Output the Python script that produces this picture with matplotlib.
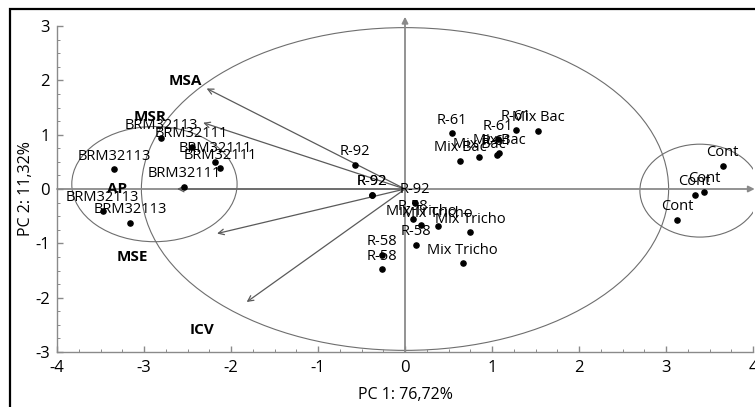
import matplotlib
matplotlib.use("Agg")
import matplotlib.pyplot as plt
from matplotlib.patches import Ellipse, Rectangle
from matplotlib.ticker import MultipleLocator

plt.rcParams['font.family'] = ['Open Sans', 'DejaVu Sans']

# ---- scores (PC1, PC2) per treatment ----
brm32113_pc1 = [-2.80, -3.345, -3.475, -3.16]
brm32113_pc2 = [0.93, 0.36, -0.40, -0.62]
brm32111_pc1 = [-2.452, -2.184, -2.126, -2.54]
brm32111_pc2 = [0.78, 0.503, 0.38, 0.04]
r92_pc1 = [-0.575, -0.383, -0.378, 0.115]
r92_pc2 = [0.44, -0.11, -0.105, -0.26]
r58_pc1 = [0.096, 0.123, -0.269, -0.261]
r58_pc2 = [-0.56, -1.03, -1.215, -1.48]
mixtricho_pc1 = [0.184, 0.375, 0.747, 0.663]
mixtricho_pc2 = [-0.66, -0.69, -0.80, -1.37]
r61_pc1 = [0.544, 1.072, 1.276, 1.054]
r61_pc2 = [1.025, 0.915, 1.086, 0.626]
mixbac_pc1 = [0.632, 0.854, 1.080, 1.532]
mixbac_pc2 = [0.515, 0.583, 0.657, 1.073]
cont_pc1 = [3.65, 3.44, 3.33, 3.13]
cont_pc2 = [0.42, -0.055, -0.11, -0.57]

groups = ["BRM32113", "BRM32111", "R-92", "R-58", "Mix Tricho", "R-61", "Mix Bac", "Cont"]
group_pc1 = [brm32113_pc1, brm32111_pc1, r92_pc1, r58_pc1, mixtricho_pc1, r61_pc1, mixbac_pc1, cont_pc1]
group_pc2 = [brm32113_pc2, brm32111_pc2, r92_pc2, r58_pc2, mixtricho_pc2, r61_pc2, mixbac_pc2, cont_pc2]

# ---- loadings (variables) ----
variables = ["MSA", "MSR", "AP", "MSE", "ICV"]
load_pc1 = [-2.28, -2.32, -2.62, -2.16, -1.82]
load_pc2 = [1.85, 1.22, 0.0, -0.82, -2.08]
varlabel_pc1 = [-2.53, -2.93, -3.31, -3.14, -2.33]
varlabel_pc2 = [1.98, 1.33, 0.0, -1.25, -2.60]

# ---- group ellipses ----
ell_cx = [0.0, -2.88, 3.39]
ell_cy = [0.0, 0.09, -0.03]
ell_w = [6.06, 1.90, 1.38]
ell_h = [5.94, 2.12, 1.71]

xticks = [-4, -3, -2, -1, 0, 1, 2, 3, 4]
yticks = [-3, -2, -1, 0, 1, 2, 3]
xlabel = "PC 1: 76,72%"
ylabel = "PC 2: 11,32%"

W, H = 755, 407
fig = plt.figure(figsize=(W / 100, H / 100), dpi=100)
ax = fig.add_axes([57 / W, 1 - 352 / H, (753 - 57) / W, (352 - 26) / H])

grey = '#8a8a8a'
ax.set_xlim(-4, 4)
ax.set_ylim(-3, 3)
for s in ['top', 'right']:
    ax.spines[s].set_visible(False)
for s in ['left', 'bottom']:
    ax.spines[s].set_color(grey)
    ax.spines[s].set_linewidth(1.0)
ax.set_xticks(xticks)
ax.set_yticks(yticks)
ax.set_xticklabels([str(t) for t in xticks])
ax.set_yticklabels([str(t) for t in yticks])
ax.xaxis.set_minor_locator(MultipleLocator(0.25))
ax.yaxis.set_minor_locator(MultipleLocator(0.25))
ax.tick_params(which='major', direction='in', length=4, width=1.0, color=grey,
               labelsize=12, pad=6)
ax.tick_params(which='minor', direction='in', length=2.5, width=0.7, color=grey)
ax.tick_params(axis='y', pad=5)
ax.set_xlabel(xlabel, fontsize=11.5, labelpad=8)
ax.set_ylabel(ylabel, fontsize=11.5, labelpad=1)

# axis lines through origin with arrows
ax.annotate('', xy=(4.02, 0), xytext=(-4, 0),
            arrowprops=dict(arrowstyle='-|>', color=grey, lw=1.3,
                            mutation_scale=9, shrinkA=0, shrinkB=0),
            annotation_clip=False)
ax.annotate('', xy=(0, 3.17), xytext=(0, -3),
            arrowprops=dict(arrowstyle='-|>', color=grey, lw=1.3,
                            mutation_scale=9, shrinkA=0, shrinkB=0),
            annotation_clip=False)

# ellipses
for cx, cy, w, h in zip(ell_cx, ell_cy, ell_w, ell_h):
    ax.add_patch(Ellipse((cx, cy), w, h, fill=False, edgecolor='#6e6e6e', lw=0.8))

# loading arrows
for name, lx, ly, tx, ty in zip(variables, load_pc1, load_pc2, varlabel_pc1, varlabel_pc2):
    ax.annotate('', xy=(lx, ly), xytext=(0, 0),
                arrowprops=dict(arrowstyle='->', color='#5a5a5a', lw=0.9,
                                mutation_scale=10, shrinkA=0, shrinkB=0))
    ax.text(tx, ty, name, fontsize=11, fontweight='bold', ha='center', va='center',
            color='black')

# score points and labels
for g, xs, ys in zip(groups, group_pc1, group_pc2):
    ax.scatter(xs, ys, s=14, color='black', zorder=5)
    for x, y in zip(xs, ys):
        ax.annotate(g, (x, y), xytext=(0, 9.5), textcoords='offset points',
                    ha='center', va='center', fontsize=10.5, color='black', zorder=6)

# outer frame
fig.add_artist(Rectangle((10 / W, -0.05), 1.0, 1 - 9 / H + 0.05, transform=fig.transFigure,
                         fill=False, edgecolor='black', lw=1.6))

fig.savefig('out.png', dpi=100)
